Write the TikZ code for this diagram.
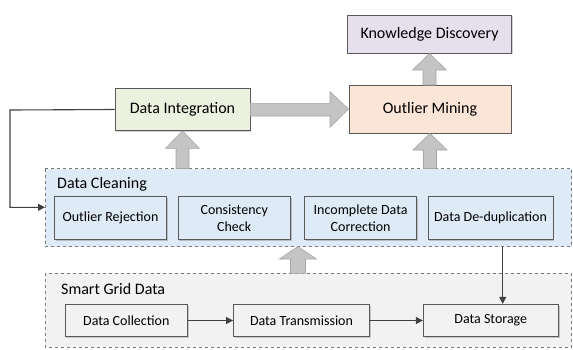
\documentclass[tikz,border=0pt]{standalone}
\usepackage{fontspec}
\setmainfont{Carlito}
\usetikzlibrary{arrows.meta,shadows}
\definecolor{kdfill}{HTML}{E5E0EC}
\definecolor{difill}{HTML}{EBF1DE}
\definecolor{omfill}{HTML}{FBE5D6}
\definecolor{dcfill}{HTML}{DEEAF6}
\definecolor{sgfill}{HTML}{F2F2F2}
\definecolor{boxline}{HTML}{595959}
\definecolor{connline}{HTML}{404040}
\definecolor{arrfill}{HTML}{C4C4C4}
\definecolor{arrline}{HTML}{A6A6A6}
\begin{document}
\begin{tikzpicture}[x=1pt,y=-1pt,
  big/.style={font=\fontsize{16}{18}\selectfont},
  small/.style={font=\fontsize{14}{17}\selectfont},
  box/.style={draw=boxline,line width=0.9pt,align=center,inner sep=0pt,
    drop shadow={shadow xshift=1.2pt,shadow yshift=-1.2pt,fill=black,opacity=0.18}},
  cont/.style={draw=boxline!80,dashed,line width=0.7pt},
  conn/.style={draw=connline,line width=1.1pt,-{Triangle[length=7pt,width=7pt]}},
  fat/.style={fill=arrfill,draw=arrline,line width=0.6pt}]
\useasboundingbox (0,0) rectangle (573,349);
% containers
\path[cont,fill=dcfill] (45,168.5) rectangle (571.5,246.5);
\node[big,anchor=west,inner sep=0pt] (dclabel) at (57,184) {Data Cleaning};
\path[cont,fill=sgfill] (45,273.3) rectangle (571.5,347.3);
\node[big,anchor=west,inner sep=0pt] (sglabel) at (61,288.5) {Smart Grid Data};
% top boxes
\node[box,big,fill=kdfill,minimum width=164pt,minimum height=38pt] (kd) at (429.5,34) {Knowledge Discovery};
\node[box,big,fill=difill,minimum width=135pt,minimum height=42pt] (di) at (182.5,109.5) {Data Integration};
\node[box,big,fill=omfill,minimum width=162pt,minimum height=48pt] (om) at (430,109) {Outlier Mining};
% cleaning boxes
\node[box,small,fill=dcfill,minimum width=112.4pt,minimum height=42.6pt] (or) at (110.5,218) {Outlier Rejection};
\node[box,small,fill=dcfill,minimum width=112.5pt,minimum height=42.6pt] (cc) at (234.2,218) {Consistency\\Check};
\node[box,small,fill=dcfill,minimum width=112.2pt,minimum height=42.6pt] (idc) at (360.6,218) {Incomplete Data\\Correction};
\node[box,small,fill=dcfill,minimum width=125pt,minimum height=42.6pt] (dd) at (490.5,218) {Data De-duplication};
% grid boxes
\node[box,small,fill=sgfill,minimum width=122.7pt,minimum height=32.4pt] (col) at (126.3,320.5) {Data Collection};
\node[box,small,fill=sgfill,minimum width=136pt,minimum height=32.4pt] (tra) at (301.5,320.5) {Data Transmission};
\node[box,small,fill=sgfill,minimum width=135pt,minimum height=32.4pt] (sto) at (490.8,320.5) {Data Storage};
% connectors
\draw[conn] (col.east) -- (tra.west);
\draw[conn] (tra.east) -- (sto.west);
\coordinate (ddout) at (502.7,246.5);
\draw[conn] (ddout) -- (ddout |- sto.north);
\coordinate (fbl) at (10,110);
\coordinate (fbb) at (10,207.3);
\draw[conn] (di.west) -- (fbl) -- (fbb) -- (45,207.3);
% fat arrows
\draw[fat] (di.east |- 0,103.3) -- (330,103.3) -- (330,91.7) -- (om.west) -- (330,127.3) -- (330,116) -- (di.east |- 0,116) -- cycle;
\draw[fat] (176,168.5) -- (176,148.3) -- (165.5,148.3) -- (di.south) -- (199.5,148.3) -- (189,148.3) -- (189,168.5) -- cycle;
\draw[fat] (423.5,168.5) -- (423.5,150) -- (413,150) -- (om.south) -- (447,150) -- (436.5,150) -- (436.5,168.5) -- cycle;
\draw[fat] (423,85) -- (423,70) -- (412.5,70) -- (kd.south) -- (446.5,70) -- (436,70) -- (436,85) -- cycle;
\draw[fat] (290.5,273.3) -- (290.5,259) -- (279.5,259) -- (298,246.5) -- (316.5,259) -- (305.5,259) -- (305.5,273.3) -- cycle;
\end{tikzpicture}
\end{document}
